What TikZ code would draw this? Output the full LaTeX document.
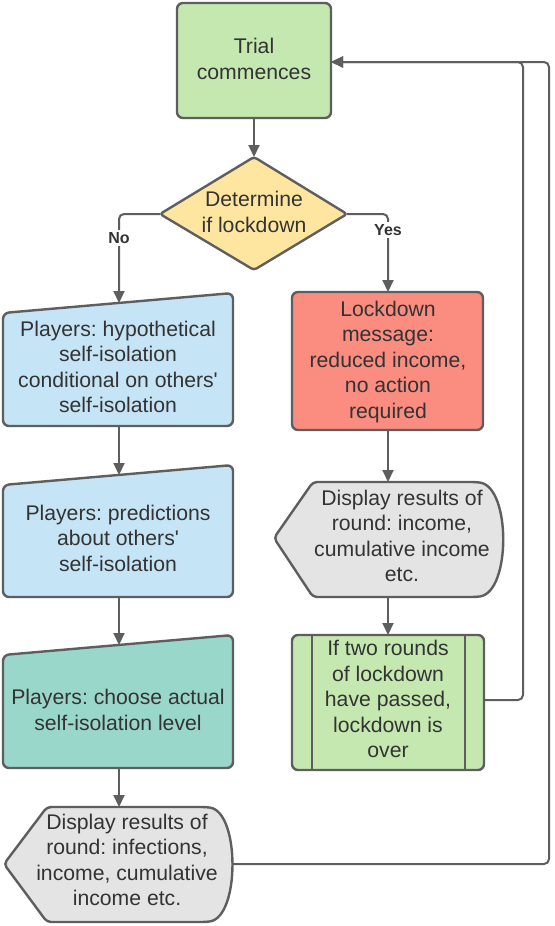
\documentclass[tikz,border=0pt]{standalone}
\usepackage{fontspec}
\setmainfont{Liberation Sans}[Ligatures=TeXOff]
\usetikzlibrary{arrows.meta}
\definecolor{bd}{HTML}{5E5E5E}
\definecolor{tx}{HTML}{333333}
\definecolor{cgreen}{HTML}{C5E8B0}
\definecolor{cyellow}{HTML}{FFE6A0}
\definecolor{cblue}{HTML}{C5E4F5}
\definecolor{cteal}{HTML}{9AD7CB}
\definecolor{cred}{HTML}{FA8C80}
\definecolor{cgray}{HTML}{E4E4E4}
\tikzset{
  box/.style={draw=bd, line width=2.4pt, rounded corners=6pt},
  conn/.style={draw=bd, line width=2pt, rounded corners=5pt, -{Triangle[length=12pt,width=11pt]}},
  lbl/.style={text=tx, align=center, inner sep=0pt, font=\fontsize{21.2}{25.5}\selectfont\frenchspacing},
  yn/.style={fill=white, text=tx, inner sep=2pt, font=\fontsize{16}{18}\selectfont\bfseries},
}
\begin{document}
\begin{tikzpicture}[x=1pt,y=-1pt]
\useasboundingbox (0,0) rectangle (554,926);
\fill[white] (0,0) rectangle (554,926);

% Trial
\draw[box, fill=cgreen] (177,3) rectangle (331,118);
\node[lbl] (trialT) at (254,59) {Trial\\commences};
\coordinate (trialS) at (254,118);
\coordinate (trialE) at (331,62);

% Decision
\draw[box, fill=cyellow, rounded corners=3pt] (254,157) -- (347,214) -- (254,270) -- (160,214) -- cycle;
\node[lbl] (detT) at (254,212) {Determine\\if lockdown};
\coordinate (dN) at (254,157);
\coordinate (dW) at (160,214);
\coordinate (dE) at (347,214);

% Blue 1
\draw[box, fill=cblue] (3,313) -- (233,293) -- (233,426) -- (3,426) -- cycle;
\node[lbl] (b1T) at (118,367) {Players: hypothetical\\self-isolation\\conditional on others'\\self-isolation};
\coordinate (b1N) at (119,303);
\coordinate (b1S) at (119,426);

% Blue 2
\draw[box, fill=cblue] (3,485) -- (233,465) -- (233,597) -- (3,597) -- cycle;
\node[lbl] (b2T) at (118,538) {Players: predictions\\about others'\\self-isolation};
\coordinate (b2N) at (119,475);
\coordinate (b2S) at (119,597);

% Teal
\draw[box, fill=cteal] (3,655) -- (233,635) -- (233,768) -- (3,768) -- cycle;
\node[lbl] (tT) at (118,710) {Players: choose actual\\self-isolation level};
\coordinate (tN) at (119,645);
\coordinate (tS) at (119,768);

% Display left
\draw[box, fill=cgray, rounded corners=4pt] (4,864) -- (47,807) -- (206,807) .. controls (240,812) and (240,917) .. (206,922) -- (47,922) -- cycle;
\node[lbl] (dLT) at (127,860) {Display results of\\round: infections,\\income, cumulative\\income etc.};
\coordinate (dLN) at (119,807);
\coordinate (dLE) at (232,864);

% Red
\draw[box, fill=cred] (292,292) rectangle (483,430);
\node[lbl] (rT) at (388,362) {Lockdown\\message:\\reduced income,\\no action\\required};
\coordinate (rN) at (388,292);
\coordinate (rS) at (388,430);

% Display right
\draw[box, fill=cgray, rounded corners=4pt] (274,538) -- (313,482) -- (476,482) .. controls (511,487) and (511,592) .. (476,597) -- (313,597) -- cycle;
\node[lbl] (gT) at (402,536) {Display results of\\round: income,\\cumulative income\\etc.};
\coordinate (gN) at (388,482);
\coordinate (gS) at (388,597);

% Predefined process
\draw[box, fill=cgreen] (292,635) rectangle (484,770);
\draw[draw=bd, line width=2.4pt] (312,635) -- (312,770) (465,635) -- (465,770);
\node[lbl] (pT) at (388,699) {If two rounds\\of lockdown\\have passed,\\lockdown is\\over};
\coordinate (pN) at (388,635);
\coordinate (pE) at (484,700);

% Connectors
\draw[conn] (trialS) -- (dN);
\draw[conn] (dW) -| (b1N);
\node[yn] (no) at (119,238) {No};
\draw[conn] (dE) -| (rN);
\node[yn] (yes) at (388,230) {Yes};
\draw[conn] (b1S) -- (b2N);
\draw[conn] (b2S) -- (tN);
\draw[conn] (tS) -- (dLN);
\draw[conn] (rS) -- (gN);
\draw[conn] (gS) -- (pN);
\draw[conn] (pE) -- ++(39,0) |- (trialE);
\draw[conn] (dLE) -- ++(317,0) |- (trialE);
\end{tikzpicture}
\end{document}
